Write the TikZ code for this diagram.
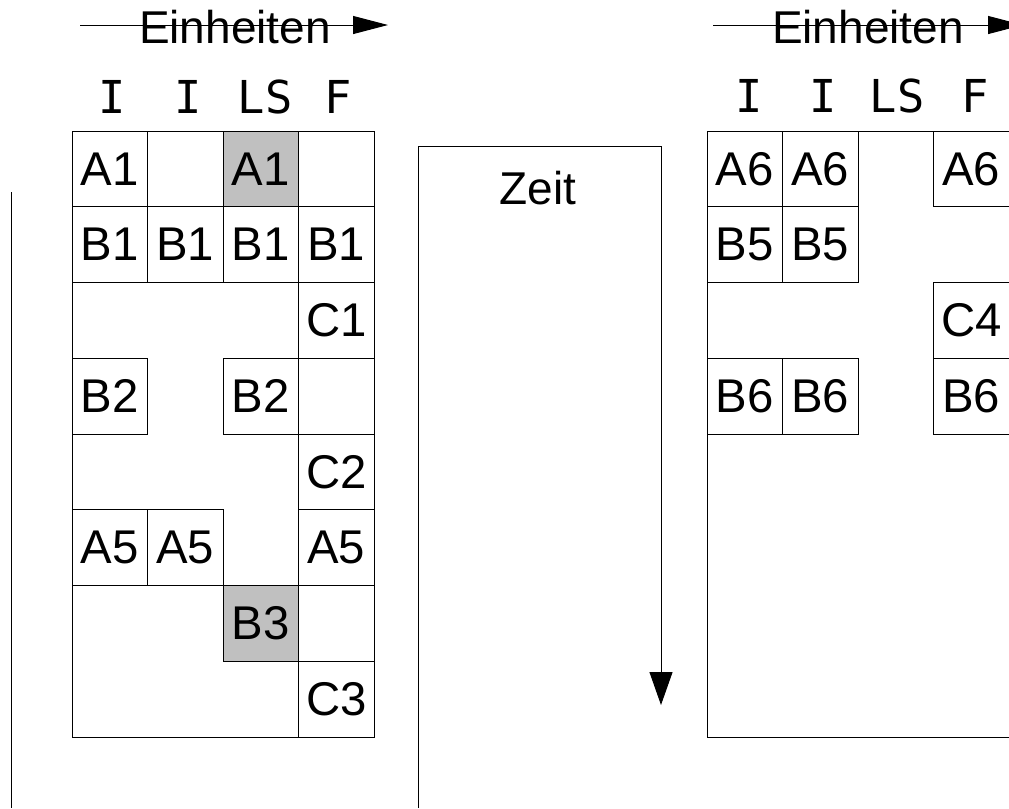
\documentclass[tikz,border=0pt]{standalone}
\usepackage{fontspec}
\setmainfont{Liberation Sans}
\newfontfamily\headmono{DejaVu Sans Mono}
\usetikzlibrary{arrows.meta}
\definecolor{grayfill}{RGB}{192,192,192}
\begin{document}
\begin{tikzpicture}[x=0.75pt,y=-0.75pt,
  line width=0.75pt,
  cellbox/.style={draw, minimum width=56.625pt, minimum height=56.81pt,
    inner sep=0pt, outer sep=0pt, anchor=north west,
    font=\fontsize{35.5}{35.5}\selectfont},
  shadedbox/.style={cellbox, fill=grayfill},
  colhead/.style={anchor=base, inner sep=0pt, font=\headmono\fontsize{34}{34}\selectfont},
  bigtext/.style={anchor=base, inner sep=0pt, font=\fontsize{34.5}{34.5}\selectfont},
  unitarrow/.style={-{Triangle[length=26.25pt, width=13.5pt]}},
  timearrow/.style={-{Triangle[length=24.75pt, width=17.25pt]}}]
\useasboundingbox (0,0) rectangle (1009,808);
\clip (0,0) rectangle (1009,808);

% ---- left schedule ----
\coordinate (eL0) at (80,25);
\coordinate (eL1) at (388,25);
\draw[unitarrow] (eL0) -- (eL1);
\node[bigtext] (einL) at (235,43) {Einheiten};
\node[colhead] (hL1) at (112,113) {I};
\node[colhead] (hL2) at (188,113) {I};
\node[colhead] (hL3) at (265,113) {LS};
\node[colhead] (hL4) at (338,113) {F};
\draw (72,131) rectangle (374,737);
\foreach \c/\r/\t/\n in {1/1/A1/a, 1/2/B1/b, 2/2/B1/c, 3/2/B1/d, 4/2/B1/e,
    4/3/C1/f, 1/4/B2/g, 3/4/B2/h, 4/5/C2/i, 1/6/A5/j, 2/6/A5/k, 4/6/A5/l,
    4/8/C3/m}
  \node[cellbox] (L\n) at ({72+75.5*(\c-1)},{131+75.75*(\r-1)}) {\t};
\foreach \c/\r/\t/\n in {3/1/A1/s, 3/7/B3/t}
  \node[shadedbox] (L\n) at ({72+75.5*(\c-1)},{131+75.75*(\r-1)}) {\t};

% ---- time axis ----
\coordinate (tl0) at (11,192);
\coordinate (tl1) at (11,808);
\draw (tl0) -- (tl1);
\coordinate (z0) at (418,808);
\coordinate (z1) at (418,146);
\coordinate (z2) at (661,146);
\coordinate (z3) at (661,705);
\draw[timearrow] (z0) -- (z1) -- (z2) -- (z3);
\node[bigtext] (zeit) at (538,204) {Zeit};

% ---- right schedule ----
\coordinate (eR0) at (713,25);
\coordinate (eR1) at (1023,25);
\draw[unitarrow] (eR0) -- (eR1);
\node[bigtext] (einR) at (868,43) {Einheiten};
\node[colhead] (hR1) at (749,112) {I};
\node[colhead] (hR2) at (823,112) {I};
\node[colhead] (hR3) at (897,112) {LS};
\node[colhead] (hR4) at (975,112) {F};
\draw (707,131) rectangle (1010,737);
\foreach \c/\r/\t/\n in {1/1/A6/a, 2/1/A6/b, 4/1/A6/c, 1/2/B5/d, 2/2/B5/e,
    4/3/C4/f, 1/4/B6/g, 2/4/B6/h, 4/4/B6/i}
  \node[cellbox] (R\n) at ({707+75.5*(\c-1)},{131+75.75*(\r-1)}) {\t};
\end{tikzpicture}
\end{document}
